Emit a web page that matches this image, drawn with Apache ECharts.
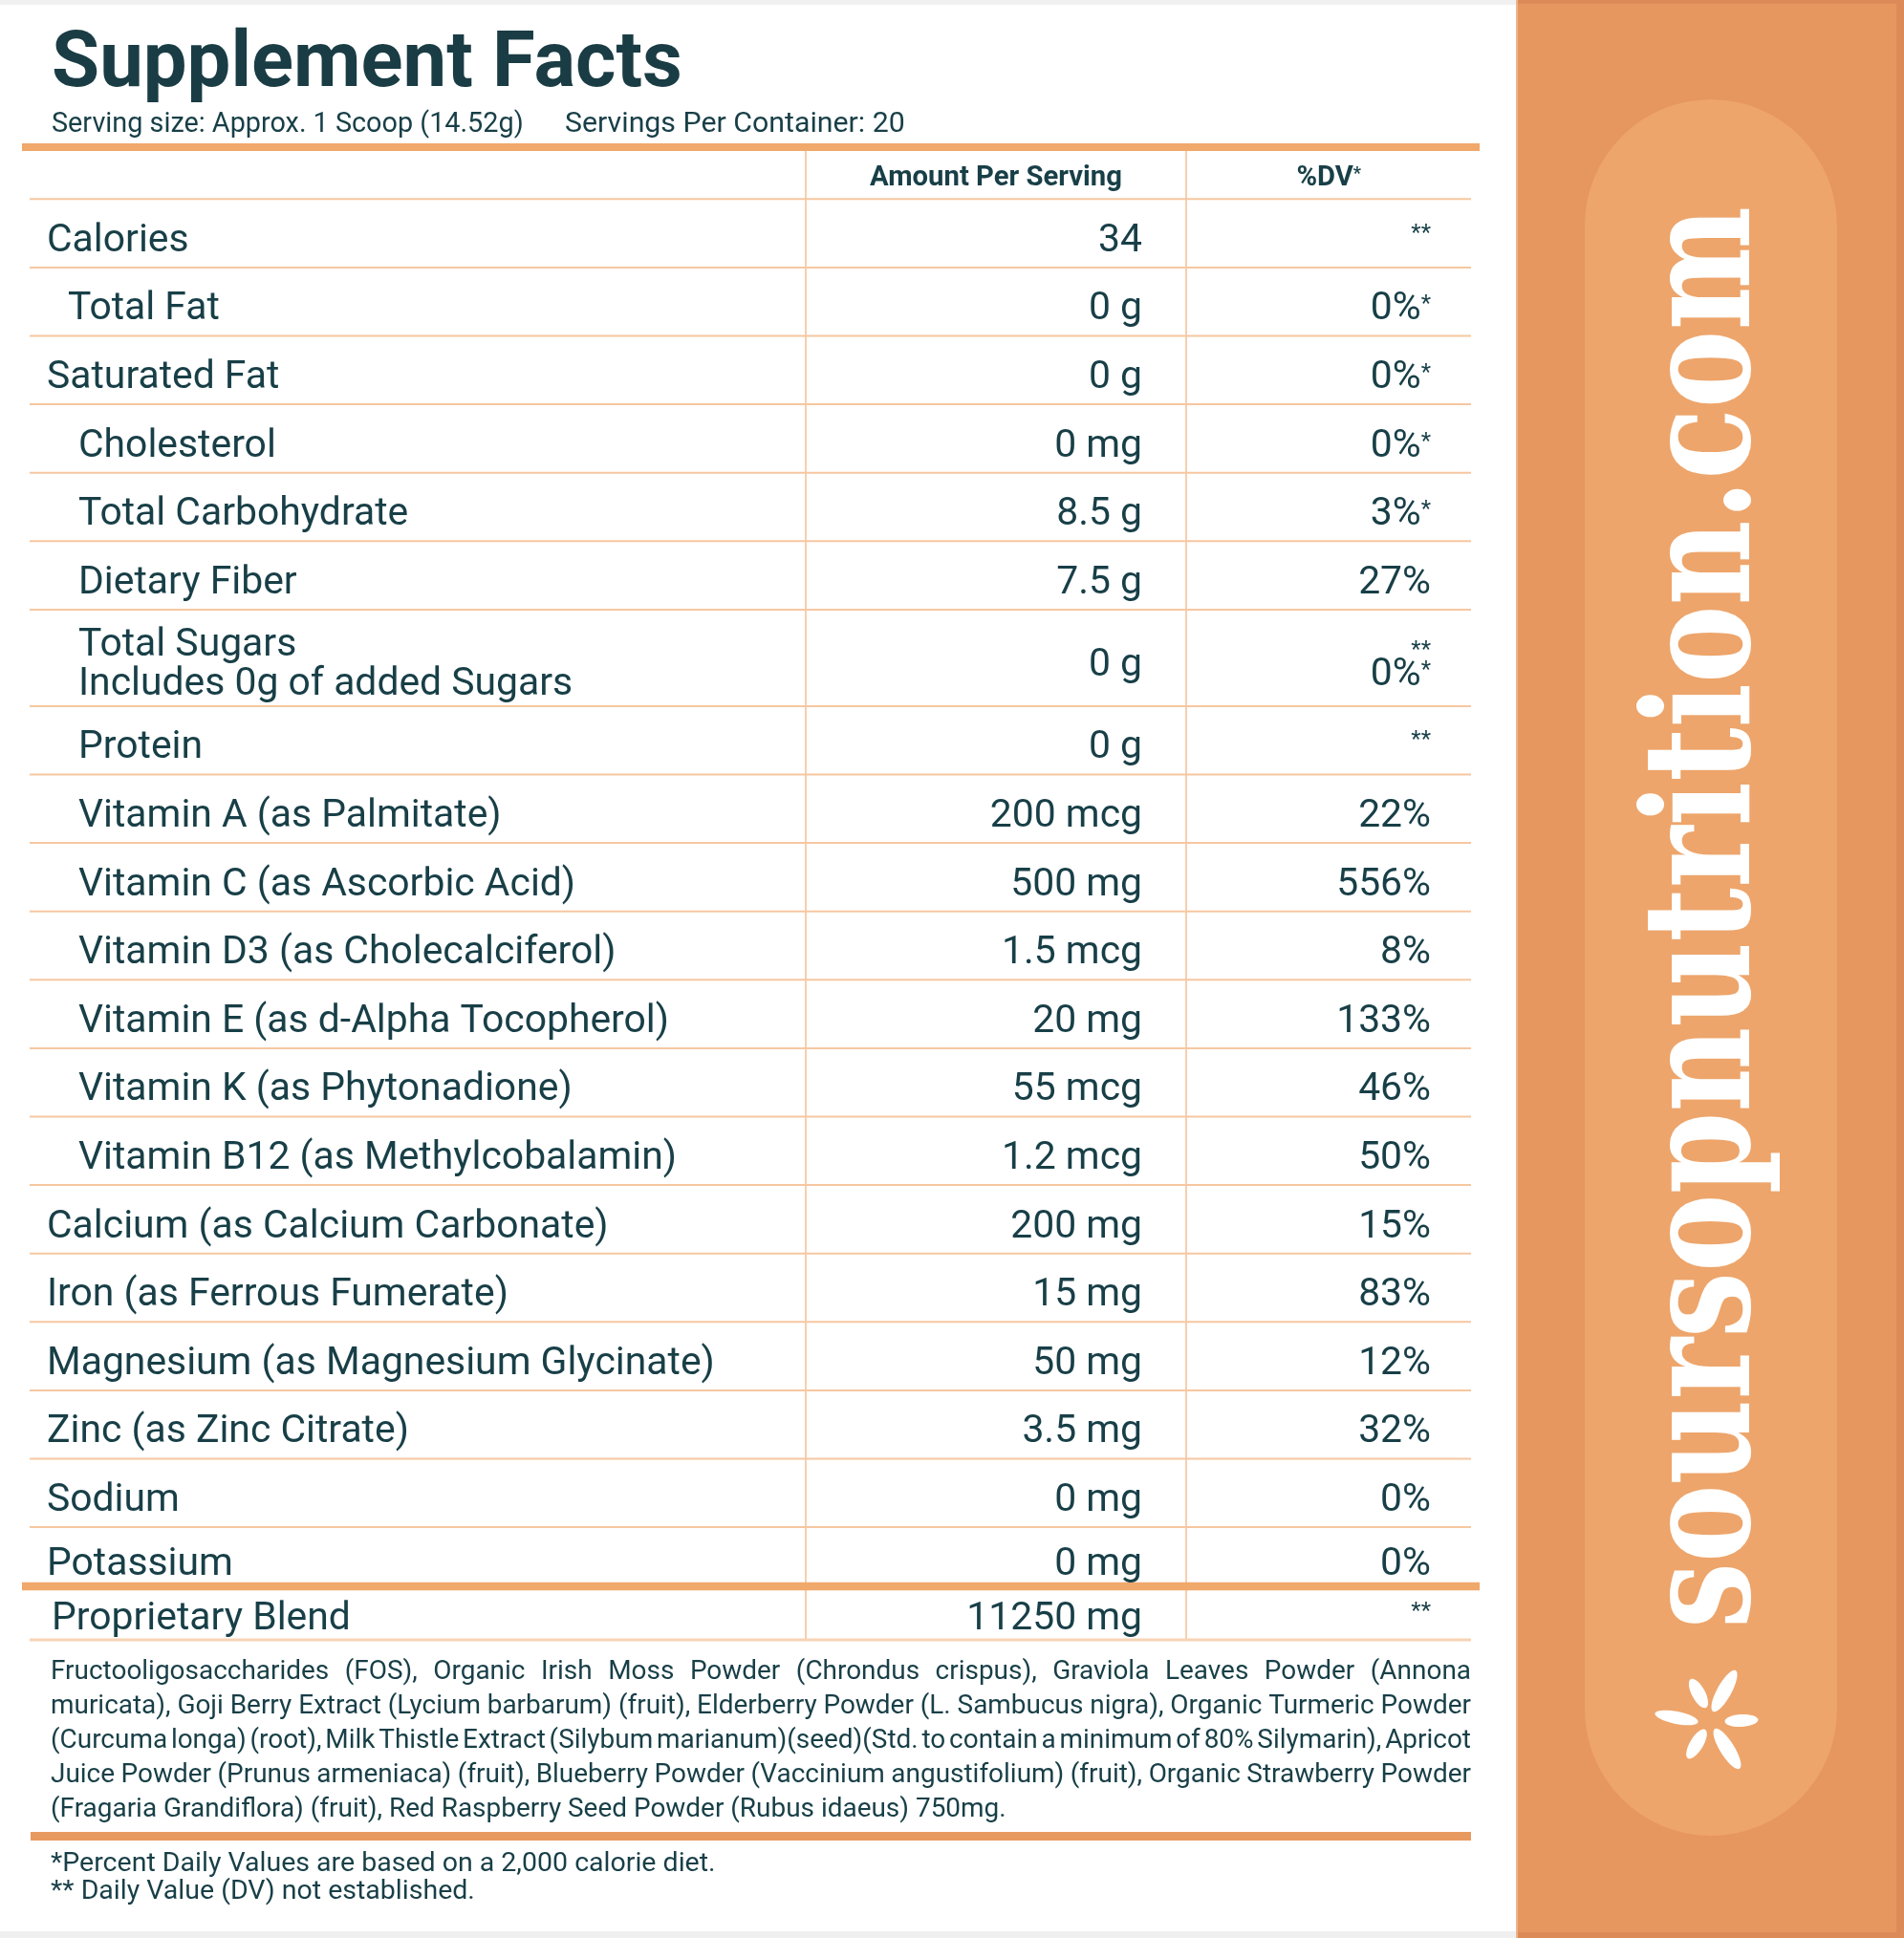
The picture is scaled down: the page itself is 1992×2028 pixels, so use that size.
<!DOCTYPE html>
<html>
<head>
<meta charset="utf-8">
<title>Supplement Facts</title>
<script src="https://cdn.jsdelivr.net/npm/echarts@6/dist/echarts.min.js"></script>
<style>
  html, body { margin: 0; padding: 0; background: #fff; }
  #main { width: 1992px; height: 2028px; }
</style>
</head>
<body>
<div id="main"></div>
<script>
// ---- label content ----
const title = 'Supplement Facts'
const servingSize = 'Serving size: Approx. 1 Scoop (14.52g)'
const servingsPerContainer = 'Servings Per Container: 20'
const columnHeads = ['Amount Per Serving', '%DV']

const nutrients = [
  'Calories', 'Total Fat', 'Saturated Fat', 'Cholesterol', 'Total Carbohydrate',
  'Dietary Fiber', 'Total Sugars\nIncludes 0g of added Sugars', 'Protein',
  'Vitamin A (as Palmitate)', 'Vitamin C (as Ascorbic Acid)', 'Vitamin D3 (as Cholecalciferol)',
  'Vitamin E (as d-Alpha Tocopherol)', 'Vitamin K (as Phytonadione)', 'Vitamin B12 (as Methylcobalamin)',
  'Calcium (as Calcium Carbonate)', 'Iron (as Ferrous Fumerate)', 'Magnesium (as Magnesium Glycinate)',
  'Zinc (as Zinc Citrate)', 'Sodium', 'Potassium'
]
// 0 = flush, 1 = small indent, 2 = sub-item
const nutrientLevel = [0, 1, 0, 2, 2, 2, 2, 2, 2, 2, 2, 2, 2, 2, 0, 0, 0, 0, 0, 0]
const amounts = [
  '34', '0 g', '0 g', '0 mg', '8.5 g', '7.5 g', '0 g', '0 g',
  '200 mcg', '500 mg', '1.5 mcg', '20 mg', '55 mcg', '1.2 mcg',
  '200 mg', '15 mg', '50 mg', '3.5 mg', '0 mg', '0 mg'
]
const dailyValues = [
  '**', '0%*', '0%*', '0%*', '3%*', '27%', '**\n0%*', '**',
  '22%', '556%', '8%', '133%', '46%', '50%',
  '15%', '83%', '12%', '32%', '0%', '0%'
]

const blendName = 'Proprietary Blend'
const blendAmount = '11250 mg'
const blendDailyValue = '**'
const blendLines = [
  'Fructooligosaccharides (FOS), Organic Irish Moss Powder (Chrondus crispus), Graviola Leaves Powder (Annona',
  'muricata), Goji Berry Extract (Lycium barbarum) (fruit), Elderberry Powder (L. Sambucus nigra), Organic Turmeric Powder',
  '(Curcuma longa) (root), Milk Thistle Extract (Silybum marianum)(seed)(Std. to contain a minimum of 80% Silymarin), Apricot',
  'Juice Powder (Prunus armeniaca) (fruit), Blueberry Powder (Vaccinium angustifolium) (fruit), Organic Strawberry Powder',
  '(Fragaria Grandiflora) (fruit), Red Raspberry Seed Powder (Rubus idaeus) 750mg.'
]
const footnotes = [
  '*Percent Daily Values are based on a 2,000 calorie diet.',
  '** Daily Value (DV) not established.'
]
const brand = 'soursopnutrition.com'

// ---- layout ----
const INK = '#183f47'
const SANS = "Roboto, 'Open Sans', sans-serif"
const SERIF = "'DejaVu Serif', 'Liberation Serif', serif"
const ORANGE = '#e6965f'
const PILL = '#eda56b'
const RULE = '#f0a86b'
const THIN = '#f6c7a0'

const PANEL_X = 1586
const TBL_L = 31
const TBL_R = 1539
const COL_1 = 843
const COL_2 = 1241
const AMT_R = 1195
const DV_R = 1497
const INDENT = [49, 71, 82]
const BODY_TOP = 208.3
const ROW_H = 71.6
const TALL_H = 101
const LAST_H = 57.2

const ctx = document.createElement('canvas').getContext('2d')
function measure (s, size, weight, family) {
  ctx.font = weight + ' ' + size + 'px ' + family
  ctx.textBaseline = 'middle'
  return ctx.measureText(s)
}
function capOffset (size, weight, family, glyph) {
  const m = measure(glyph || 'H', size, weight, family)
  return (m.actualBoundingBoxDescent - m.actualBoundingBoxAscent) / 2
}
function fit (s, target, weight, family) {
  return 100 * target / measure(s, 100, weight, family).width
}

const TITLE_SIZE = fit(title, 660, 'bold', SANS)
const SUB_SIZE = fit(servingSize, 494, 'normal', SANS)
const SUB2_SIZE = fit(servingsPerContainer, 356, 'normal', SANS)
const HEAD_SIZE = fit(columnHeads[0], 264, 'bold', SANS)
const BODY = fit('Magnesium (as Magnesium Glycinate)', 699, 'normal', SANS)
const STAR = 24
const P_SIZE = fit(blendLines[4], 1000, 'normal', SANS)
const NOTE_SIZE = fit(footnotes[0], 696, 'normal', SANS)

function text (s, x, capCenter, size, opts) {
  opts = opts || {}
  const weight = opts.weight || 'normal'
  const family = opts.family || SANS
  return {
    type: 'text',
    x: x,
    y: capCenter - capOffset(size, weight, family),
    silent: true,
    style: {
      text: s,
      fill: opts.color || INK,
      fontSize: size,
      fontWeight: weight,
      fontFamily: family,
      align: opts.align || 'left',
      verticalAlign: 'middle'
    }
  }
}
// asterisks are placed by the top of their ink
function stars (s, x, top, align) {
  const m = measure('*', STAR, 'normal', SANS)
  return {
    type: 'text',
    x: x,
    y: top + m.actualBoundingBoxAscent,
    silent: true,
    style: { text: s, fill: INK, fontSize: STAR, fontFamily: SANS, align: align, verticalAlign: 'middle' }
  }
}
function capHeight (size) {
  const m = measure('H', size, 'normal', SANS)
  return m.actualBoundingBoxAscent + m.actualBoundingBoxDescent
}
function dvMarks (value, capCenter) {
  const top = capCenter - capHeight(BODY) / 2
  if (/^\*+$/.test(value)) return [stars(value, DV_R, top, 'right')]
  const main = value.replace(/\*+$/, '')
  const tail = value.slice(main.length)
  const out = []
  let right = DV_R
  if (tail) {
    const sw = measure(tail, STAR, 'normal', SANS).width
    right -= sw
    out.push(stars(tail, right, top + 3, 'left'))
  }
  out.push(text(main, right, capCenter, BODY, { align: 'right' }))
  return out
}
function hline (x1, x2, y, color, w) {
  return { type: 'line', silent: true, shape: { x1: x1, y1: y, x2: x2, y2: y }, style: { stroke: color, lineWidth: w } }
}
function rect (x, y, w, h, color, r) {
  return { type: 'rect', silent: true, shape: { x: x, y: y, width: w, height: h, r: r || 0 }, style: { fill: color } }
}

const els = []

// backgrounds
els.push(rect(0, 0, PANEL_X, 5, '#f0f0f0'))
els.push(rect(0, 2021, PANEL_X, 7, '#efefef'))
els.push(rect(PANEL_X, 0, 1992 - PANEL_X, 2028, ORANGE))
els.push(rect(PANEL_X, 0, 1992 - PANEL_X, 4, '#dc8b58'))
els.push(rect(PANEL_X, 2022, 1992 - PANEL_X, 6, '#dc8b58'))
els.push(rect(1984, 0, 8, 2028, '#dc8b58'))
els.push(rect(PANEL_X, 0, 2, 2028, '#eeb58c'))
els.push(rect(1658, 104, 264, 1817, PILL, 132))

// heading
els.push(text(title, 54, 61, TITLE_SIZE, { weight: 'bold', color: '#1a3c44' }))
els.push(text(servingSize, 54, 127.5, SUB_SIZE))
els.push(text(servingsPerContainer, 591, 127.5, SUB2_SIZE))

// table rows
const rowH = nutrients.map((n, i) => n.indexOf('\n') >= 0 ? TALL_H : (i === nutrients.length - 1 ? LAST_H : ROW_H))
const rowTop = []
rowH.reduce((y, h) => { rowTop.push(y); return y + h }, BODY_TOP)
const tableBottom = rowTop[rowTop.length - 1] + rowH[rowH.length - 1]
const blendTop = tableBottom + 9
const blendBottom = 1716

// grid lines
els.push({ type: 'line', silent: true, shape: { x1: COL_1, y1: 158, x2: COL_1, y2: blendBottom }, style: { stroke: '#f7cfae', lineWidth: 2 } })
els.push({ type: 'line', silent: true, shape: { x1: COL_2, y1: 158, x2: COL_2, y2: blendBottom }, style: { stroke: '#f7cfae', lineWidth: 2 } })
els.push(hline(TBL_L, TBL_R, BODY_TOP, THIN, 2))
rowTop.slice(1).forEach(y => els.push(hline(TBL_L, TBL_R, y, THIN, 2)))
els.push(hline(TBL_L, TBL_R, blendBottom, '#f8d3b5', 3))
els.push(rect(23, 150, 1525, 8, RULE))
els.push(rect(23, tableBottom + 0.5, 1525, 8.5, RULE))
els.push(rect(32, 1917, 1507, 9, '#e8995f'))

// column heads
els.push(text(columnHeads[0], (COL_1 + COL_2) / 2, 183, HEAD_SIZE, { weight: 'bold', align: 'center' }))
const dvHeadW = measure(columnHeads[1], HEAD_SIZE, 'bold', SANS).width
const dvStarW = measure('*', 18, 'normal', SANS).width
const dvHeadX = (COL_2 + TBL_R) / 2 - (dvHeadW + dvStarW) / 2
els.push(text(columnHeads[1], dvHeadX, 183, HEAD_SIZE, { weight: 'bold' }))
els.push({
  type: 'text', x: dvHeadX + dvHeadW, y: 174 + measure('*', 18, 'bold', SANS).actualBoundingBoxAscent, silent: true,
  style: { text: '*', fill: INK, fontSize: 18, fontWeight: 'bold', fontFamily: SANS, align: 'left', verticalAlign: 'middle' }
})

nutrients.forEach((name, i) => {
  const top = rowTop[i]
  const x = INDENT[nutrientLevel[i]]
  if (name.indexOf('\n') >= 0) {
    const parts = name.split('\n')
    els.push(text(parts[0], x, top + 33.6, BODY))
    els.push(text(parts[1], x, top + 75, BODY))
    els.push(text(amounts[i], AMT_R, top + 55, BODY, { align: 'right' }))
    const dv = dailyValues[i].split('\n')
    els.push(stars(dv[0], DV_R, top + 32, 'right'))
    dvMarks(dv[1], top + 64.6).forEach(e => els.push(e))
  } else {
    const cy = top + Math.min(40, rowH[i] / 2 + 7)
    els.push(text(name, x, cy, BODY))
    els.push(text(amounts[i], AMT_R, cy, BODY, { align: 'right' }))
    dvMarks(dailyValues[i], cy).forEach(e => els.push(e))
  }
})

// proprietary blend row
const blendCy = blendTop + 26
els.push(text(blendName, 54, blendCy, BODY))
els.push(text(blendAmount, AMT_R, blendCy, BODY, { align: 'right' }))
dvMarks(blendDailyValue, blendCy).forEach(e => els.push(e))

// justified ingredient paragraph
const P_L = 53
const P_R = 1539
const spaceW = measure(' ', P_SIZE, 'normal', SANS).width
blendLines.forEach((line, i) => {
  const words = line.split(' ')
  const ws = words.map(w => measure(w, P_SIZE, 'normal', SANS).width)
  const total = ws.reduce((a, b) => a + b, 0)
  const last = i === blendLines.length - 1
  const gap = last ? spaceW : (P_R - P_L - total) / (words.length - 1)
  let x = P_L
  words.forEach((w, j) => {
    els.push(text(w, x, 1747 + i * 36, P_SIZE))
    x += ws[j] + gap
  })
})

footnotes.forEach((f, i) => els.push(text(f, 53, 1948 + i * 29, NOTE_SIZE)))

// vertical brand word
const xm = measure('x', 100, 'bold', SERIF)
const BRAND_SIZE = 100 * 81 / (xm.actualBoundingBoxAscent + xm.actualBoundingBoxDescent)
const bm = measure('x', BRAND_SIZE, 'bold', SERIF)
const brandW = measure(brand, BRAND_SIZE, 'bold', SERIF).width
els.push({
  type: 'text',
  x: 1789.5 - (bm.actualBoundingBoxDescent - bm.actualBoundingBoxAscent) / 2,
  y: 960,
  rotation: Math.PI / 2,
  scaleX: 1488 / brandW,
  silent: true,
  style: { text: brand, fill: '#ffffff', fontSize: BRAND_SIZE, fontWeight: 'bold', fontFamily: SERIF, align: 'center', verticalAlign: 'middle' }
})

// little flower mark under the word
const petals = [
  [1754, 1797.5, 23, 6.5, 11],
  [1822, 1800.5, 17.5, 6.5, -3],
  [1777, 1772, 17, 7, 62],
  [1804, 1769.5, 24.5, 7.5, -61],
  [1775, 1825, 17.5, 7, -59],
  [1807, 1830, 24.5, 7.5, 58]
]
petals.forEach(p => {
  els.push({
    type: 'ellipse', silent: true, x: p[0], y: p[1], rotation: -p[4] * Math.PI / 180,
    shape: { cx: 0, cy: 0, rx: p[2], ry: p[3] }, style: { fill: '#ffffff' }
  })
})

const chart = echarts.init(document.getElementById('main'), null, { renderer: 'canvas' })
chart.setOption({
  animation: false,
  backgroundColor: '#ffffff',
  graphic: { elements: els }
})
window.addEventListener('resize', () => chart.resize())
</script>
</body>
</html>
